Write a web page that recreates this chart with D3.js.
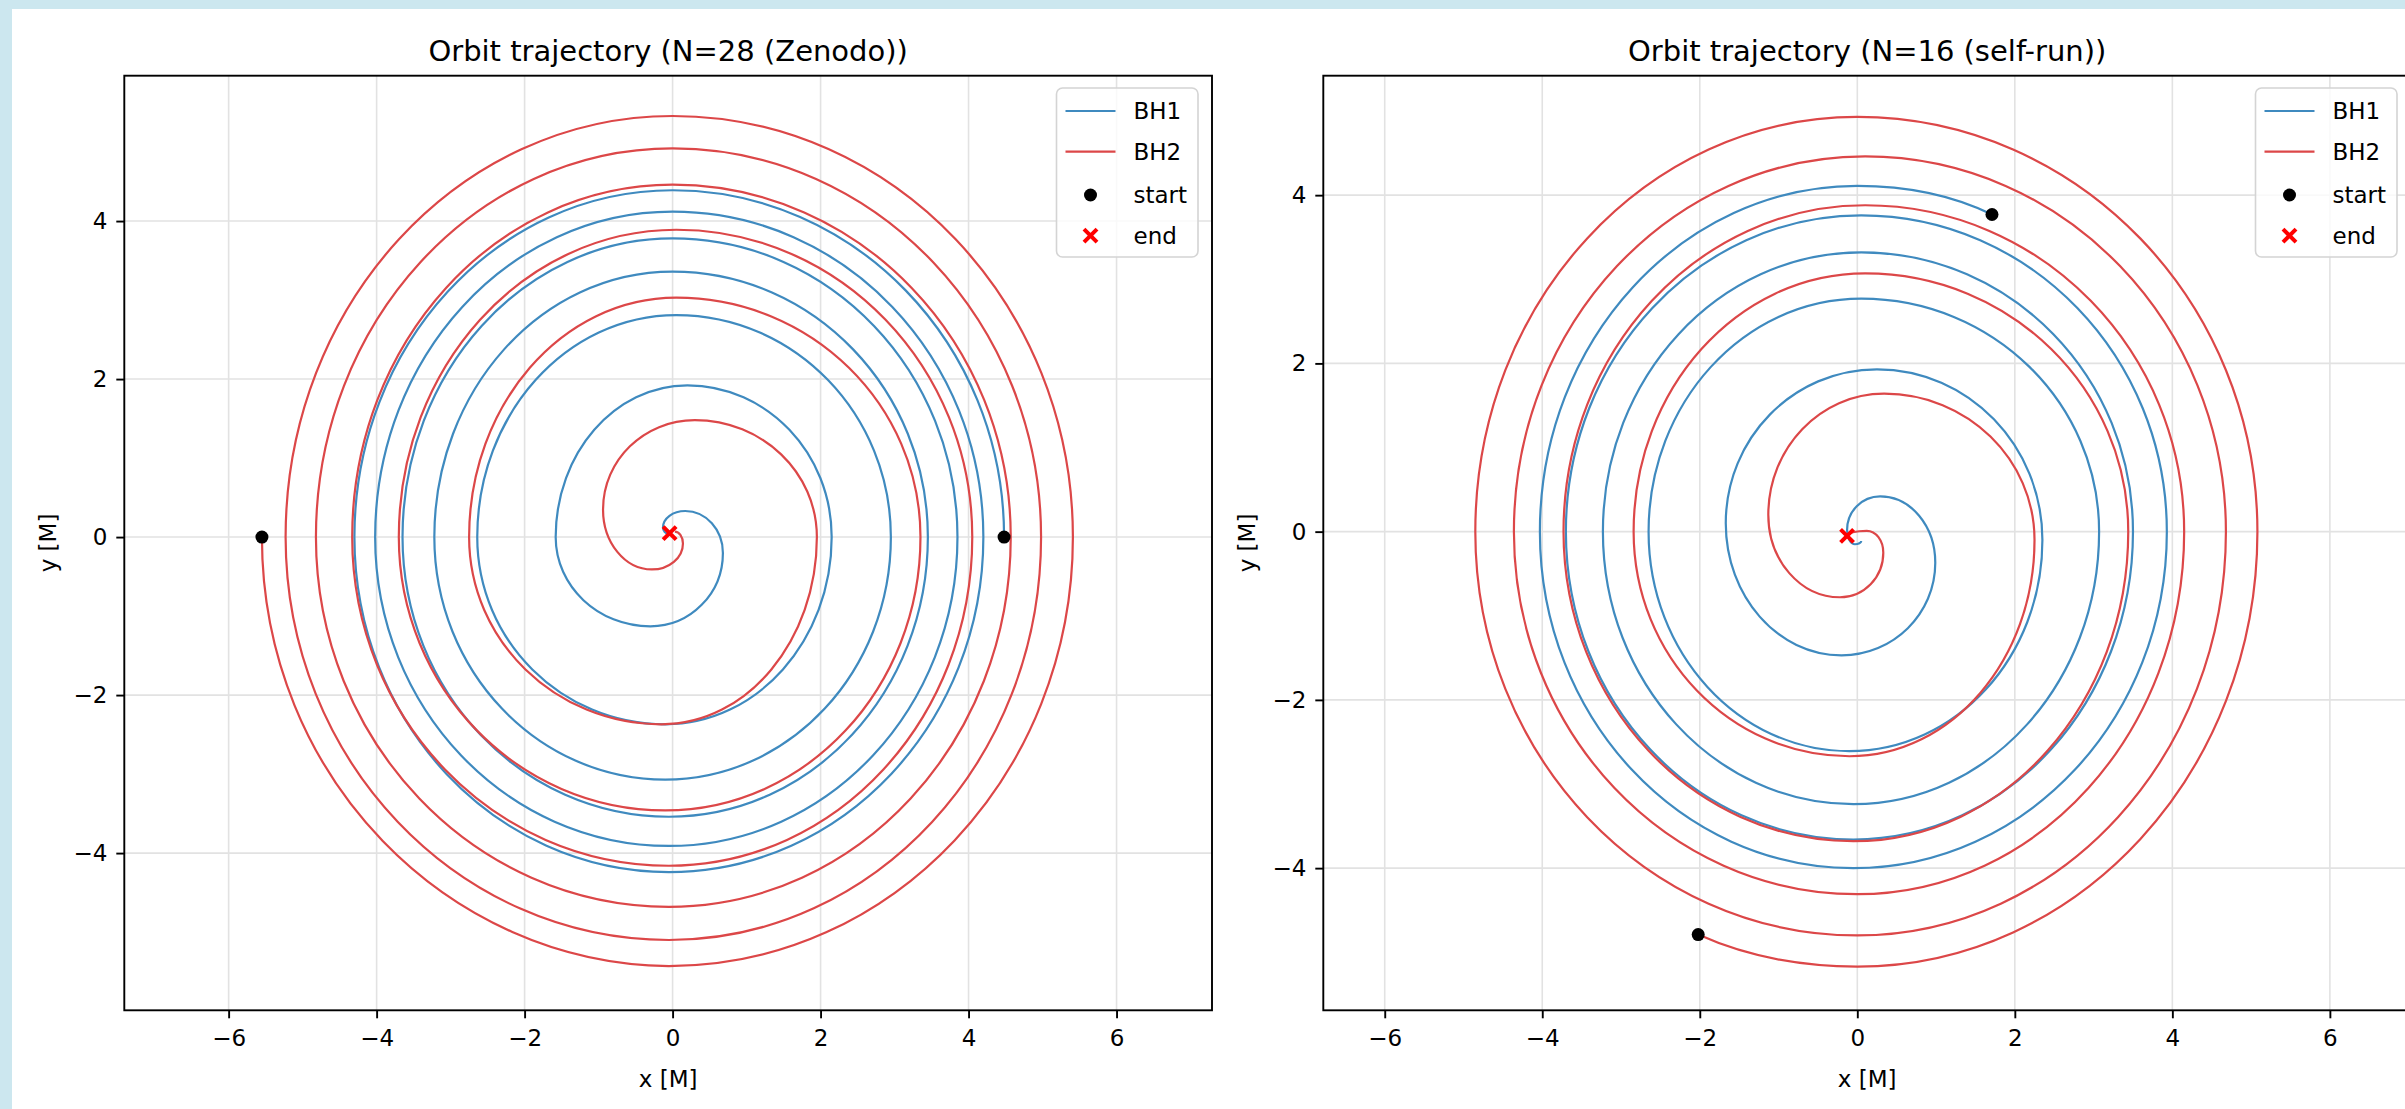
<!DOCTYPE html>
<html>
<head>
<meta charset="utf-8">
<script src="https://cdn.jsdelivr.net/npm/d3@7"></script>
<style>
body{margin:0;background:#fff;overflow:hidden;}
svg text{font-family:"DejaVu Sans",sans-serif;fill:#000;}
</style>
</head>
<body>
<div id="d3charts"></div>
<script>
var xTicks=[-6,-4,-2,0,2,4,6];
var yTicks=[-4,-2,0,2,4];
var titles=["Orbit trajectory (N=28 (Zenodo))","Orbit trajectory (N=16 (self-run))"];
var legendLabels=["BH1","BH2","start","end"];

// N=28 (Zenodo): turning points of every quarter orbit
var zenBH1x=[4.48,0.0,-4.30,-0.05,4.20,0.0,-4.02,-0.05,3.85,0.0,-3.65,-0.05,3.45,0.0,-3.22,-0.10,2.95,0.05,-2.64,-0.10,2.15,0.20,-1.58,-0.30,0.68,0.17,-0.13,-0.05];
var zenBH1y=[0.0,4.39,0.0,-4.24,0.0,4.12,0.0,-3.91,0.0,3.78,0.0,-3.54,0.0,3.36,0.0,-3.07,0.0,2.81,0.0,-2.37,0.0,1.92,0.0,-1.13,-0.20,0.33,0.12,0.04];
var zenBH2x=[-5.55,-0.05,5.41,0.0,-5.23,-0.05,4.98,0.0,-4.82,-0.05,4.57,0.0,-4.33,-0.05,4.05,0.05,-3.70,-0.10,3.35,0.05,-2.75,-0.15,1.95,0.30,-0.94,-0.28,0.14,0.03];
var zenBH2y=[0.0,-5.43,0.0,5.33,0.0,-5.10,0.0,4.92,0.0,-4.68,0.0,4.46,0.0,-4.16,0.0,3.89,0.0,-3.46,0.0,3.03,0.0,-2.37,0.0,1.48,0.35,-0.41,-0.08,0.07];
var zenEndX=[-0.04];
var zenEndY=[0.05];

// N=16 (self-run)
var selfBH1x=[1.71,0.0,-4.03,-0.05,3.93,0.05,-3.70,-0.05,3.50,0.05,-3.23,-0.05,3.07,0.05,-2.65,-0.10,2.35,0.25,-1.67,-0.20,0.99,0.29,-0.13,-0.03,0.05];
var selfBH1y=[3.77,4.11,0.0,-4.00,0.0,3.76,0.0,-3.66,0.0,3.32,0.0,-3.24,0.0,2.77,0.0,-2.61,-0.10,1.93,0.10,-1.47,-0.37,0.42,0.02,-0.15,-0.11];
var selfBH2x=[-2.02,0.0,5.08,0.0,-4.85,0.0,4.68,0.10,-4.36,0.0,4.15,0.10,-3.73,-0.05,3.44,0.10,-2.84,-0.10,2.25,0.34,-1.13,-0.22,0.33,0.12,-0.13];
var selfBH2y=[-4.79,-5.17,0.0,4.93,0.0,-4.80,0.0,4.46,0.0,-4.31,0.0,3.88,0.0,-3.68,0.0,3.07,0.0,-2.67,-0.10,1.64,0.20,-0.78,-0.25,0.01,-0.05];
var selfEndX=[-0.13];
var selfEndY=[-0.05];

function init(){

    var w=2405;
    var h=1109;

    var svg = d3.select("#d3charts")
                .append("svg")
                .attr("width",w)
                .attr("height",h);

    // light blue page edge
    svg.append("rect").attr("x",0).attr("y",0).attr("width",w).attr("height",9).attr("fill","#cce7ef");
    svg.append("rect").attr("x",0).attr("y",0).attr("width",12).attr("height",h).attr("fill","#cce7ef");

    var panels=[
        {title:titles[0], x0:124.3, x1:1212, xd:[-7.41,7.29], yd:[-5.99,5.84],
         b1x:zenBH1x, b1y:zenBH1y, b2x:zenBH2x, b2y:zenBH2y, ex:zenEndX, ey:zenEndY},
        {title:titles[1], x0:1323.3, x1:2411, xd:[-6.78,7.03], yd:[-5.69,5.42],
         b1x:selfBH1x, b1y:selfBH1y, b2x:selfBH2x, b2y:selfBH2y, ex:selfEndX, ey:selfEndY}
    ];
    var top=75.7, bottom=1010.3;
    var blue="#3f8abf", red="#dc4748";

    panels.forEach(function(pn){
        var x=d3.scaleLinear().domain(pn.xd).range([pn.x0,pn.x1]);
        var y=d3.scaleLinear().domain(pn.yd).range([bottom,top]);
        var g=svg.append("g");

        var clipId="clip"+Math.round(pn.x0);
        g.append("clipPath").attr("id",clipId).append("rect")
            .attr("x",pn.x0).attr("y",top).attr("width",pn.x1-pn.x0).attr("height",bottom-top);

        // grid
        g.selectAll("line.gx").data(xTicks).enter().append("line")
            .attr("x1",function(d){return x(d);}).attr("x2",function(d){return x(d);})
            .attr("y1",top).attr("y2",bottom)
            .attr("stroke","#e2e2e2").attr("stroke-width",1.6);
        g.selectAll("line.gy").data(yTicks).enter().append("line")
            .attr("y1",function(d){return y(d);}).attr("y2",function(d){return y(d);})
            .attr("x1",pn.x0).attr("x2",pn.x1)
            .attr("stroke","#e2e2e2").attr("stroke-width",1.6);

        var plot=g.append("g").attr("clip-path","url(#"+clipId+")");

        plot.append("path").attr("d",orbitPath(pn.b1x,pn.b1y,x,y))
            .attr("fill","none").attr("stroke",blue).attr("stroke-width",2.2);
        plot.append("path").attr("d",orbitPath(pn.b2x,pn.b2y,x,y))
            .attr("fill","none").attr("stroke",red).attr("stroke-width",2.2);

        // start markers
        plot.selectAll("circle.start").data([[pn.b1x[0],pn.b1y[0]],[pn.b2x[0],pn.b2y[0]]])
            .enter().append("circle")
            .attr("cx",function(d){return x(d[0]);})
            .attr("cy",function(d){return y(d[1]);})
            .attr("r",6.5).attr("fill","#000");

        // end markers
        pn.ex.forEach(function(ex,i){
            drawCross(plot,x(ex),y(pn.ey[i]));
        });

        // axes
        var xAxis=d3.axisBottom(x).tickValues(xTicks).tickSize(8).tickPadding(11).tickFormat(d3.format("d"));
        var yAxis=d3.axisLeft(y).tickValues(yTicks).tickSize(8).tickPadding(9).tickFormat(d3.format("d"));
        var gx=g.append("g").attr("transform","translate(0,"+bottom+")").call(xAxis);
        var gy=g.append("g").attr("transform","translate("+pn.x0+",0)").call(yAxis);
        [gx,gy].forEach(function(a){
            a.select(".domain").remove();
            a.selectAll("line").attr("stroke","#000").attr("stroke-width",1.9);
            a.selectAll("text").attr("font-size",23).attr("font-family","DejaVu Sans");
        });

        g.append("rect").attr("x",pn.x0).attr("y",top)
            .attr("width",pn.x1-pn.x0).attr("height",bottom-top)
            .attr("fill","none").attr("stroke","#000").attr("stroke-width",1.9);

        var cx=(pn.x0+pn.x1)/2;
        g.append("text").attr("x",cx).attr("y",61).attr("text-anchor","middle")
            .attr("font-size",29).text(pn.title);
        g.append("text").attr("x",cx).attr("y",1087).attr("text-anchor","middle")
            .attr("font-size",23).text("x [M]");
        g.append("text").attr("transform","translate("+(pn.x0-68)+","+((top+bottom)/2)+") rotate(-90)")
            .attr("text-anchor","middle").attr("font-size",23).text("y [M]");

        // legend
        var lx=pn.x1-155.5, ly=88;
        var lg=g.append("g").attr("transform","translate("+lx+","+ly+")");
        lg.append("rect").attr("width",141.5).attr("height",169).attr("rx",6)
            .attr("fill","#fff").attr("fill-opacity",0.8)
            .attr("stroke","#d4d4d4").attr("stroke-width",1.6);
        var rows=[23,63.7,107,147.7];
        lg.append("line").attr("x1",9).attr("x2",59).attr("y1",rows[0]).attr("y2",rows[0])
            .attr("stroke",blue).attr("stroke-width",2.2);
        lg.append("line").attr("x1",9).attr("x2",59).attr("y1",rows[1]).attr("y2",rows[1])
            .attr("stroke",red).attr("stroke-width",2.2);
        lg.append("circle").attr("cx",34).attr("cy",rows[2]).attr("r",6.5).attr("fill","#000");
        drawCross(lg,34,rows[3]);
        lg.selectAll("text").data(legendLabels).enter().append("text")
            .attr("x",77).attr("y",function(d,i){return rows[i]+8;})
            .attr("font-size",23).text(function(d){return d;});
    });
}

function drawCross(g,cx,cy){
    var s=6.5;
    g.append("path")
        .attr("d","M"+(cx-s)+","+(cy-s)+"L"+(cx+s)+","+(cy+s)+"M"+(cx-s)+","+(cy+s)+"L"+(cx+s)+","+(cy-s))
        .attr("stroke","#ff0000").attr("stroke-width",4).attr("fill","none");
}

// quarter-ellipse bezier segments between turning points
function orbitPath(xs,ys,sx,sy){
    var k=0.5523;
    var p=d3.path();
    var pts=xs.map(function(v,i){
        return {px:sx(v),py:sy(ys[i]),h:(i-1)%2==0};
    });
    p.moveTo(pts[0].px,pts[0].py);
    for(var i=1;i<pts.length;i++){
        var a=pts[i-1], b=pts[i];
        var c1x=a.px, c1y=a.py, c2x=b.px, c2y=b.py;
        if(i==1){
            // first leg may start anywhere: follow the circular direction
            var ta=Math.atan2(ys[0],xs[0]), tb=Math.atan2(ys[1],xs[1]);
            var dt=tb-ta;
            while(dt<=0) dt+=2*Math.PI;
            var f=4/3*Math.tan(dt/4);
            var ra=Math.hypot(xs[0],ys[0]), rb=Math.hypot(xs[1],ys[1]);
            c1x=sx(xs[0]-f*ra*Math.sin(ta)); c1y=sy(ys[0]+f*ra*Math.cos(ta));
            c2x=sx(xs[1]+f*rb*Math.sin(tb)); c2y=sy(ys[1]-f*rb*Math.cos(tb));
        } else {
            if(a.h) c1x=a.px+k*(b.px-a.px); else c1y=a.py+k*(b.py-a.py);
            if(b.h) c2x=b.px+k*(a.px-b.px); else c2y=b.py+k*(a.py-b.py);
        }
        p.bezierCurveTo(c1x,c1y,c2x,c2y,b.px,b.py);
    }
    return p.toString();
}

window.onload = init;
</script>
</body>
</html>
